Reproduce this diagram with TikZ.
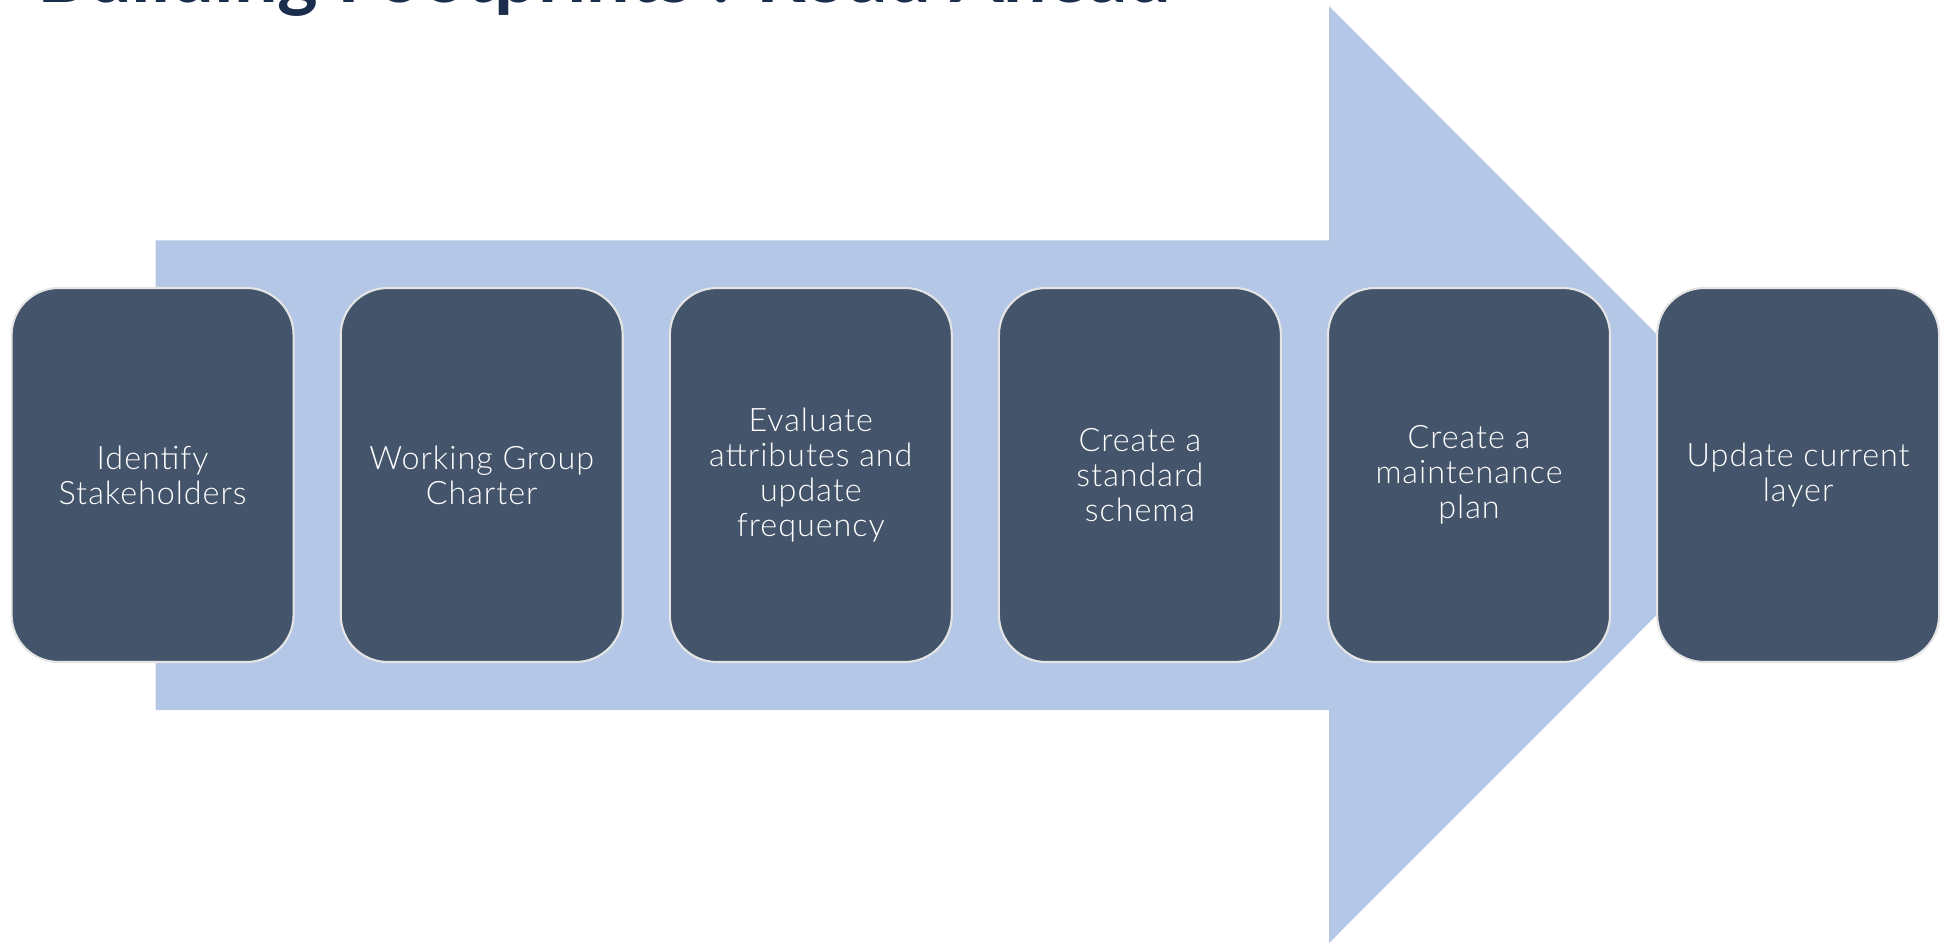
\documentclass[tikz,border=0pt]{standalone}
\usepackage{fontspec}
\setmainfont{Lato}
\newfontfamily\lightfont{Lato Light}[LetterSpace=3]
\usepackage{tikz}
\usetikzlibrary{positioning}

\definecolor{arrowblue}{HTML}{B4C7E7}
\definecolor{boxslate}{HTML}{44546A}
\definecolor{titlenavy}{HTML}{1A2D4C}

\begin{document}
\begin{tikzpicture}[
  stage/.style={draw=gray!20, line width=0.6pt, fill=boxslate, rounded corners=0.47cm,
    minimum width=2.82cm, minimum height=3.74cm, text=white, align=center,
    font=\lightfont\fontsize{9.2}{9.9}\selectfont, inner sep=2pt},
  node distance=0.45cm
]
\useasboundingbox (0,0) rectangle (19.53,9.43);
% title, cut off at the top of the picture
\node[anchor=base west, text=titlenavy, font=\bfseries\fontsize{22}{26}\selectfont, inner sep=0]
  (title) at (0.37,9.40) {Building Footprints : Road Ahead};
% the big arrow behind the steps
\fill[arrowblue]
(1.557,2.33) -- (1.557,7.026) -- (13.29,7.026) -- (13.29,9.368)
-- (17.97,4.684) -- (13.29,0) -- (13.29,2.33) -- cycle;
% the steps
\node[stage] (identify) at (1.526,4.68) {Identify\\Stakeholders};
\node[stage, right=of identify] (charter) {Working Group\\Charter};
\node[stage, right=of charter] (evaluate) {Evaluate\\attributes and\\update\\frequency};
\node[stage, right=of evaluate] (schema) {Create a\\standard\\schema};
\node[stage, right=of schema] (maintain) {Create a\\maintenance\\plan};
\node[stage, right=of maintain] (update) {Update current\\layer};
\end{tikzpicture}
\end{document}
